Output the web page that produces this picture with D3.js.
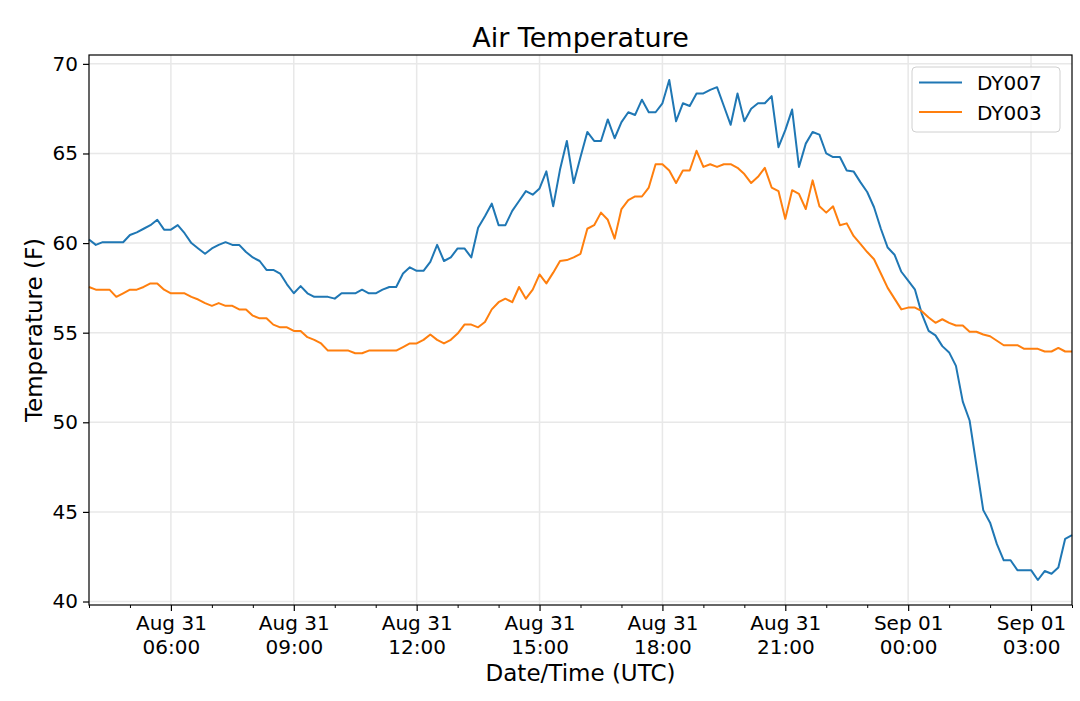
<!DOCTYPE html>
<html>
<head>
<meta charset="utf-8">
<script src="https://cdn.jsdelivr.net/npm/d3@7"></script>
<style>
  html, body { margin: 0; padding: 0; background: #fff; }
  svg { display: block; font-family: "DejaVu Sans", sans-serif; }
</style>
</head>
<body>
<svg id="chart" width="1080" height="701"></svg>
<script>
// readings every 10 minutes, 2019-08-31 04:00 UTC to 2019-09-01 04:00 UTC
const seriesNames = ['DY007', 'DY003']
const seriesColors = ['#1f77b4', '#ff7f0e']
const startTime = new Date(Date.UTC(2019, 7, 31, 4, 0))
const endTime = new Date(Date.UTC(2019, 8, 1, 4, 0))

const dy007 = [
  60.2, 59.9, 60.05, 60.05, 60.05, 60.05, 60.45, 60.6, 60.8, 61.0, 61.3, 60.75,
  60.75, 61.0, 60.55, 60.0, 59.7, 59.4, 59.7, 59.9, 60.05, 59.9, 59.9, 59.5,
  59.2, 59.0, 58.5, 58.5, 58.3, 57.7, 57.2, 57.6, 57.2, 57.0, 57.0, 57.0,
  56.9, 57.2, 57.2, 57.2, 57.4, 57.2, 57.2, 57.4, 57.55, 57.55, 58.3, 58.65,
  58.45, 58.45, 58.95, 59.9, 59.0, 59.2, 59.7, 59.7, 59.2, 60.85, 61.5, 62.2,
  61.0, 61.0, 61.8, 62.35, 62.9, 62.7, 63.05, 64.0, 62.05, 64.1, 65.7, 63.35,
  64.8, 66.2, 65.7, 65.7, 66.9, 65.85, 66.75, 67.3, 67.15, 68.0, 67.3, 67.3,
  67.8, 69.1, 66.8, 67.8, 67.65, 68.35, 68.35, 68.55, 68.7, 67.65, 66.6, 68.35,
  66.8, 67.5, 67.8, 67.8, 68.2, 65.35, 66.3, 67.45, 64.25, 65.55, 66.2, 66.05,
  65.0, 64.8, 64.8, 64.05, 64.0, 63.4, 62.85, 62.0, 60.8, 59.75, 59.35, 58.4,
  57.9, 57.4, 56.05, 55.1, 54.85, 54.25, 53.9, 53.15, 51.15, 50.1, 47.6, 45.1,
  44.4, 43.2, 42.3, 42.3, 41.75, 41.75, 41.75, 41.2, 41.7, 41.55, 41.9, 43.5,
  43.7
]

const dy003 = [
  57.55, 57.4, 57.4, 57.4, 57.0, 57.2, 57.4, 57.4, 57.55, 57.75, 57.75, 57.4,
  57.2, 57.2, 57.2, 57.0, 56.85, 56.65, 56.5, 56.65, 56.5, 56.5, 56.3, 56.3,
  55.95, 55.8, 55.8, 55.45, 55.3, 55.3, 55.1, 55.1, 54.75, 54.6, 54.4, 54.0,
  54.0, 54.0, 54.0, 53.85, 53.85, 54.0, 54.0, 54.0, 54.0, 54.0, 54.2, 54.4,
  54.4, 54.6, 54.9, 54.6, 54.4, 54.6, 54.95, 55.45, 55.45, 55.3, 55.6, 56.3,
  56.7, 56.9, 56.7, 57.55, 56.9, 57.4, 58.25, 57.75, 58.35, 59.0, 59.05, 59.2,
  59.4, 60.8, 61.0, 61.7, 61.3, 60.25, 61.9, 62.4, 62.6, 62.6, 63.1, 64.4,
  64.4, 64.05, 63.35, 64.05, 64.05, 65.15, 64.25, 64.4, 64.25, 64.4, 64.4, 64.2,
  63.85, 63.35, 63.7, 64.2, 63.1, 62.9, 61.35, 62.95, 62.75, 61.9, 63.5, 62.05,
  61.7, 62.05, 61.0, 61.1, 60.4, 59.95, 59.5, 59.1, 58.3, 57.5, 56.9, 56.3,
  56.4, 56.4, 56.2, 55.85, 55.55, 55.75, 55.55, 55.4, 55.4, 55.05, 55.05, 54.9,
  54.8, 54.55, 54.3, 54.3, 54.3, 54.1, 54.1, 54.1, 53.95, 53.95, 54.15, 53.95,
  53.95
]

const yTicks = [40, 45, 50, 55, 60, 65, 70]

const
  margin = { top: 55, right: 8, bottom: 96, left: 89 },
  W = 1080,
  H = 701,
  plotW = W - margin.left - margin.right,
  plotH = H - margin.top - margin.bottom

const times = d3.utcMinute.every(10).range(startTime, new Date(+endTime + 1))
const series = [dy007, dy003]

const svg = d3.select('#chart')
const g = svg.append('g')
  .attr('transform', 'translate(' + margin.left + ',' + margin.top + ')')

const x = d3.scaleUtc()
  .domain([startTime, endTime])
  .range([0, plotW])

// matplotlib style 5% padding on y
const allVals = dy007.concat(dy003)
const ext = d3.extent(allVals)
const pad = (ext[1] - ext[0]) * 0.05
const y = d3.scaleLinear()
  .domain([ext[0] - pad, ext[1] + pad])
  .range([plotH, 0])

const majorTicks = d3.utcHour.every(3).range(d3.utcHour.offset(startTime, 2), endTime)
const minorTicks = d3.utcHour.range(startTime, new Date(+endTime + 1))
  .filter(function(d) { return d.getUTCHours() % 3 !== 0 })

// grid
g.append('g')
  .selectAll('line.vg')
  .data(majorTicks)
  .enter().append('line')
  .attr('x1', function(d) { return x(d) })
  .attr('x2', function(d) { return x(d) })
  .attr('y1', 0)
  .attr('y2', plotH)
  .attr('stroke', '#e8e8e8')
  .attr('stroke-width', 1.5)

g.append('g')
  .selectAll('line.hg')
  .data(yTicks)
  .enter().append('line')
  .attr('x1', 0)
  .attr('x2', plotW)
  .attr('y1', function(d) { return y(d) })
  .attr('y2', function(d) { return y(d) })
  .attr('stroke', '#e8e8e8')
  .attr('stroke-width', 1.5)

// lines
const line = d3.line()
  .x(function(d, i) { return x(times[i]) })
  .y(function(d) { return y(d) })

g.selectAll('path.series')
  .data(series)
  .enter().append('path')
  .attr('class', 'series')
  .attr('fill', 'none')
  .attr('stroke', function(d, i) { return seriesColors[i] })
  .attr('stroke-width', 2)
  .attr('stroke-linejoin', 'round')
  .attr('d', line)

// axes
const fmtDay = d3.utcFormat('%b %d')
const fmtTime = d3.utcFormat('%H:%M')

const xAxis = g.append('g')
  .attr('transform', 'translate(0,' + plotH + ')')
  .call(d3.axisBottom(x).tickValues(majorTicks).tickSize(6).tickPadding(6).tickFormat(''))

xAxis.select('.domain').remove()
xAxis.selectAll('.tick line').attr('stroke', '#000').attr('stroke-width', 1.2)
xAxis.selectAll('.tick text').remove()
xAxis.selectAll('.tick')
  .append('text')
  .attr('fill', '#000')
  .attr('text-anchor', 'middle')
  .attr('font-size', 20)
  .attr('font-family', '"DejaVu Sans", sans-serif')
  .each(function(d) {
    const t = d3.select(this)
    t.append('tspan').attr('x', 0).attr('y', 25).text(fmtDay(d))
    t.append('tspan').attr('x', 0).attr('y', 48.5).text(fmtTime(d))
  })

g.append('g')
  .attr('transform', 'translate(0,' + plotH + ')')
  .call(d3.axisBottom(x).tickValues(minorTicks).tickSize(3).tickFormat(''))
  .call(function(a) {
    a.select('.domain').remove()
    a.selectAll('.tick line').attr('stroke', '#000').attr('stroke-width', 1)
  })

const yAxis = g.append('g')
  .call(d3.axisLeft(y).tickValues(yTicks).tickSize(6).tickPadding(5))

yAxis.select('.domain').remove()
yAxis.selectAll('.tick line').attr('stroke', '#000').attr('stroke-width', 1.2)
yAxis.selectAll('.tick text')
  .attr('fill', '#000')
  .attr('font-size', 20)
  .attr('font-family', '"DejaVu Sans", sans-serif')

// frame
g.append('rect')
  .attr('width', plotW)
  .attr('height', plotH)
  .attr('fill', 'none')
  .attr('stroke', '#000')
  .attr('stroke-width', 1.2)

// titles
svg.append('text')
  .attr('x', margin.left + plotW / 2)
  .attr('y', 47)
  .attr('text-anchor', 'middle')
  .attr('font-size', 27)
  .text('Air Temperature')

svg.append('text')
  .attr('x', margin.left + plotW / 2)
  .attr('y', 681)
  .attr('text-anchor', 'middle')
  .attr('font-size', 23)
  .text('Date/Time (UTC)')

svg.append('text')
  .attr('transform', 'translate(42,' + (margin.top + plotH / 2) + ') rotate(-90)')
  .attr('text-anchor', 'middle')
  .attr('font-size', 23)
  .text('Temperature (F)')

// legend
const legend = svg.append('g').attr('transform', 'translate(912,67)')

legend.append('rect')
  .attr('width', 148)
  .attr('height', 65)
  .attr('rx', 4)
  .attr('fill', '#fff')
  .attr('fill-opacity', 0.8)
  .attr('stroke', '#d0d0d0')
  .attr('stroke-width', 1)

const items = legend.selectAll('g.item')
  .data(seriesNames)
  .enter().append('g')
  .attr('transform', function(d, i) { return 'translate(0,' + (15.5 + i * 29.5) + ')' })

items.append('line')
  .attr('x1', 7)
  .attr('x2', 50)
  .attr('stroke', function(d, i) { return seriesColors[i] })
  .attr('stroke-width', 2)

items.append('text')
  .attr('x', 65)
  .attr('y', 7.5)
  .attr('font-size', 20)
  .text(function(d) { return d })
</script>
</body>
</html>
